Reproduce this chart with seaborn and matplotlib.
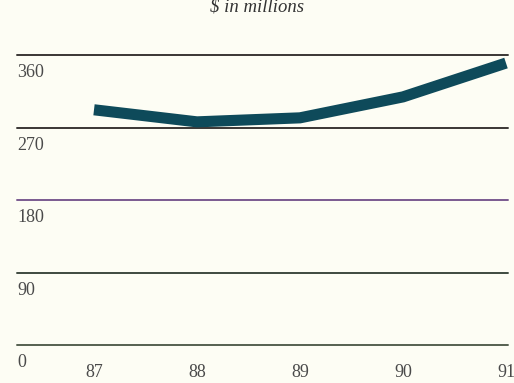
import matplotlib
matplotlib.use("Agg")
import matplotlib.pyplot as plt
import matplotlib.transforms as mtransforms
import seaborn as sns
import pandas as pd

years = [87, 88, 89, 90, 91]
values = [292, 277, 282, 308, 350]
y_ticks = [0, 90, 180, 270, 360]
y_labels = ["0", "90", "180", "270", "360"]
x_labels = ["87", "88", "89", "90", "91"]
title = "$ in millions"

sns.set_theme(style="white")
plt.rcParams["font.family"] = ["Liberation Serif", "DejaVu Serif"]

bg = "#fdfdf4"
fig = plt.figure(figsize=(5.14, 3.83), dpi=100, facecolor=bg)
ax = fig.add_axes([17/514, 1-345/383, (508-17)/514, (345-55)/383])
ax.set_facecolor(bg)

df = pd.DataFrame({"year": years, "value": values})
sns.lineplot(data=df, x="year", y="value", ax=ax, color="#0e4a5a",
             linewidth=8, solid_capstyle="butt", solid_joinstyle="miter",
             clip_on=False, zorder=5)

ax.set_xlim(87 - 77/103, 91 + 2/103)
ax.set_ylim(0, 360)
grid_colors = ["#556050", "#3e4a40", "#7a5a90", "#3a3634", "#3a3634"]
for t, c in zip(y_ticks, grid_colors):
    ax.axhline(t, color=c, linewidth=1.4, zorder=1, clip_on=False)

for s in ax.spines.values():
    s.set_visible(False)
ax.set_xticks([])
ax.set_yticks([])
ax.set_xlabel("")
ax.set_ylabel("")

tc = "#4a4a4a"
trans = mtransforms.blended_transform_factory(ax.transAxes, ax.transData)
off = mtransforms.ScaledTranslation(0, -6.5/72, fig.dpi_scale_trans)
for t, lab in zip(y_ticks, y_labels):
    ax.text(0, t, lab, transform=trans + off, ha="left", va="top",
            fontsize=13, color=tc)

xtrans = mtransforms.blended_transform_factory(ax.transData, ax.transAxes)
xoff = mtransforms.ScaledTranslation(0, -20/72, fig.dpi_scale_trans)
for x, lab in zip(years, x_labels):
    ax.text(x, 0, lab, transform=xtrans + xoff, ha="center", va="center",
            fontsize=13, color=tc)

fig.text(0.5, 1 - 7/383, title, ha="center", va="center",
         fontsize=13.5, style="italic", color="#333333")

fig.savefig("out.png", dpi=100, facecolor=bg)
